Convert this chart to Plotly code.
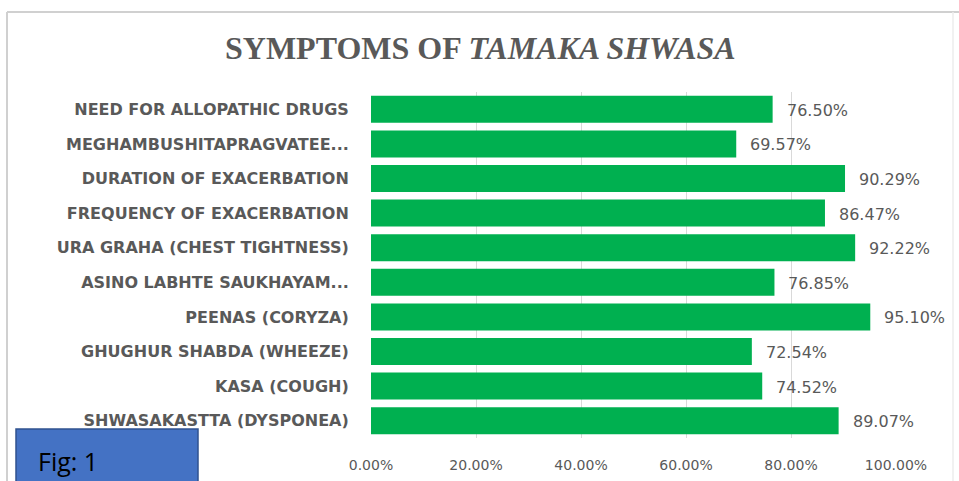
import plotly.graph_objects as go

categories = [
    "NEED FOR ALLOPATHIC DRUGS",
    "MEGHAMBUSHITAPRAGVATEE...",
    "DURATION OF EXACERBATION",
    "FREQUENCY OF EXACERBATION",
    "URA GRAHA (CHEST TIGHTNESS)",
    "ASINO LABHTE SAUKHAYAM...",
    "PEENAS (CORYZA)",
    "GHUGHUR SHABDA (WHEEZE)",
    "KASA (COUGH)",
    "SHWASAKASTTA (DYSPONEA)",
]
values = [0.7650, 0.6957, 0.9029, 0.8647, 0.9222, 0.7685, 0.9510, 0.7254, 0.7452, 0.8907]
x_ticks = [0, 0.2, 0.4, 0.6, 0.8, 1.0]

W, H = 959, 481
L, R, T, B = 371, 63, 92, 43
PW, PH = W - L - R, H - T - B
GRAY = "#595959"


def px(xpix):
    return (xpix - L) / PW


def py(ypix):
    return (H - B - ypix) / PH


fig = go.Figure()
fig.add_trace(go.Bar(
    y=categories, x=values, orientation="h",
    marker=dict(color="#00B050", line=dict(width=0)),
    hoverinfo="skip",
))

annotations = []
for c, v in zip(categories, values):
    annotations.append(dict(
        x=v, y=c, xref="x", yref="y", text=f"{v*100:.2f}%",
        showarrow=False, xanchor="left", xshift=12, yshift=-1,
        font=dict(family="DejaVu Sans", size=16, color=GRAY),
    ))

annotations += [
    dict(xref="paper", yref="paper", x=px(480), y=py(48),
         text="SYMPTOMS OF <i>TAMAKA SHWASA</i>", showarrow=False,
         xanchor="center", yanchor="middle",
         font=dict(family="Liberation Serif", size=32, color=GRAY, weight="bold")),
    dict(xref="paper", yref="paper", x=px(36), y=py(461),
         text="Fig: 1", showarrow=False, xanchor="left", yanchor="middle",
         font=dict(family="Open Sans", size=25, color="black", weight="normal")),
]

fig.update_layout(
    width=W, height=H,
    margin=dict(l=L, r=R, t=T, b=B, autoexpand=False),
    paper_bgcolor="white", plot_bgcolor="white",
    showlegend=False,
    bargap=0.22,
    xaxis=dict(
        range=[0, 1], tickvals=x_ticks, automargin=False,
        tickformat=".2%", showgrid=True, gridcolor="#d9d9d9", gridwidth=1,
        zeroline=False, showline=False,
        ticks="outside", ticklen=14, tickcolor="rgba(0,0,0,0)",
        tickfont=dict(family="DejaVu Sans", size=14, color=GRAY),
    ),
    yaxis=dict(
        autorange="reversed", automargin=False,
        showgrid=False, zeroline=False, showline=False,
        ticks="outside", ticklen=18, tickcolor="rgba(0,0,0,0)",
        tickfont=dict(family="DejaVu Sans", size=16, color=GRAY, weight="bold"),
    ),
    shapes=[
        dict(type="line", xref="paper", yref="paper",
             x0=px(7), x1=px(959), y0=py(12), y1=py(12),
             line=dict(color="#d0d0d0", width=2), layer="below"),
        dict(type="line", xref="paper", yref="paper",
             x0=px(7), x1=px(7), y0=py(12), y1=py(495),
             line=dict(color="#d0d0d0", width=2), layer="below"),
        dict(type="line", xref="paper", yref="paper",
             x0=px(953), x1=px(953), y0=py(12), y1=py(495),
             line=dict(color="#ececec", width=1.5), layer="below"),
        dict(type="rect", xref="paper", yref="paper",
             x0=px(16), x1=px(198), y0=py(495), y1=py(429),
             line=dict(color="#2F528F", width=1.5), fillcolor="#4472C4", layer="above"),
    ],
    annotations=annotations,
)

fig.write_html("out.html")
